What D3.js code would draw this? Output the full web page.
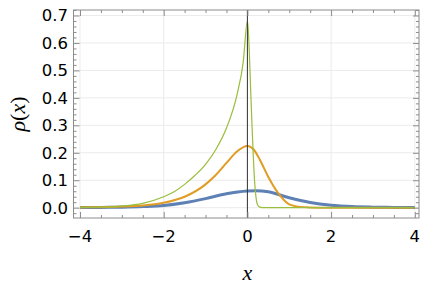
<!DOCTYPE html>
<html><head><meta charset="utf-8">
<script src="https://cdn.jsdelivr.net/npm/d3@7"></script>
<style>
html,body{margin:0;padding:0;background:#fff;}
svg{display:block;}
</style></head>
<body>
<svg id="chart" width="423" height="293"></svg>
<script>
// ---- data ----
const blueX = [-4, -3.5, -3, -2.5, -2, -1.5, -1, -0.5, 0, 0.2, 0.5, 1, 1.5, 2, 2.5, 3, 3.5, 4];
const blueY = [0.0005, 0.001, 0.002, 0.004, 0.008, 0.018, 0.033, 0.051, 0.061, 0.062, 0.058, 0.036, 0.019, 0.009, 0.004, 0.002, 0.001, 0.0005];

const orangeX = [-4, -3.5, -3, -2.5, -2, -1.5, -1, -0.75, -0.5, -0.25, 0, 0.15, 0.3, 0.5, 0.75, 1, 1.25, 1.5, 2, 3, 4];
const orangeY = [0.001, 0.002, 0.004, 0.008, 0.018, 0.040, 0.085, 0.120, 0.163, 0.205, 0.225, 0.212, 0.174, 0.112, 0.050, 0.012, 0.003, 0.001, 0, 0, 0];

const greenX = [-4, -3.5, -3, -2.5, -2, -1.75, -1.5, -1.25, -1, -0.75, -0.5, -0.25, -0.1, 0, 0.02, 0.05, 0.08, 0.11, 0.14, 0.17, 0.2, 0.24, 0.3, 0.4, 1, 2, 3, 4];
const greenY = [0.001, 0.002, 0.006, 0.016, 0.040, 0.058, 0.085, 0.118, 0.158, 0.213, 0.29, 0.41, 0.53, 0.68, 0.65, 0.55, 0.42, 0.30, 0.19, 0.10, 0.045, 0.012, 0.002, 0, 0, 0, 0, 0];

const xTicks = [-4, -2, 0, 2, 4];
const xTickLabels = ["\u22124", "\u22122", "0", "2", "4"];
const yTicks = [0, 0.1, 0.2, 0.3, 0.4, 0.5, 0.6, 0.7];
const yTickLabels = ["0.0", "0.1", "0.2", "0.3", "0.4", "0.5", "0.6", "0.7"];

const seriesColors = ["#5e81b5", "#e19c24", "#99bd3c"];

// ---- layout ----
const svg = d3.select("#chart");
const L = 73.5, R = 419, T = 10, B = 218;
const x = d3.scaleLinear().domain([-4.155, 4.1]).range([L, R]);
const y = d3.scaleLinear().domain([-0.0375, 0.72]).range([B, T]);

// gridlines
const grid = svg.append("g");
grid.selectAll("line.gx").data(xTicks).join("line")
  .attr("x1", d => x(d)).attr("x2", d => x(d)).attr("y1", T).attr("y2", B)
  .attr("stroke", "#ebebeb").attr("stroke-width", 1);
grid.selectAll("line.gy").data(yTicks).join("line")
  .attr("y1", d => y(d)).attr("y2", d => y(d)).attr("x1", L).attr("x2", R)
  .attr("stroke", "#ebebeb").attr("stroke-width", 1);

// curves
const line = d3.line().x(d => x(d[0])).y(d => y(d[1])).curve(d3.curveMonotoneX);
const series = [
  {xs: blueX, ys: blueY, w: 3},
  {xs: orangeX, ys: orangeY, w: 2},
  {xs: greenX, ys: greenY, w: 1.2}
];
series.forEach((s, i) => {
  svg.append("path")
    .datum(s.xs.map((v, j) => [v, s.ys[j]]))
    .attr("d", line)
    .attr("fill", "none")
    .attr("stroke", seriesColors[i])
    .attr("stroke-width", s.w)
    .attr("stroke-linejoin", "round");
});

// vertical axis line at x=0
svg.append("line")
  .attr("x1", x(0)).attr("x2", x(0)).attr("y1", T).attr("y2", B)
  .attr("stroke", "#333").attr("stroke-width", 1);

// frame with inward ticks
const frameColor = "#8c8c8c";
const xMinor = d3.range(-4, 4.01, 0.5).filter(v => !xTicks.includes(v));
const yMinor = d3.range(-0.02, 0.721, 0.02).map(v => +v.toFixed(2)).filter(v => !yTicks.some(t => Math.abs(t - v) < 1e-9));

const axB = d3.axisBottom(x).tickValues(xTicks).tickSize(-6).tickFormat("");
const axT = d3.axisTop(x).tickValues(xTicks).tickSize(-6).tickFormat("");
const axBm = d3.axisBottom(x).tickValues(xMinor).tickSize(-3).tickFormat("");
const axTm = d3.axisTop(x).tickValues(xMinor).tickSize(-3).tickFormat("");
const axL = d3.axisLeft(y).tickValues(yTicks).tickSize(-6).tickFormat("");
const axR = d3.axisRight(y).tickValues(yTicks).tickSize(-6).tickFormat("");
const axLm = d3.axisLeft(y).tickValues(yMinor).tickSize(-3).tickFormat("");
const axRm = d3.axisRight(y).tickValues(yMinor).tickSize(-3).tickFormat("");

function addAxis(ax, tx, ty) {
  const g = svg.append("g").attr("transform", `translate(${tx},${ty})`).call(ax);
  g.select(".domain").remove();
  g.selectAll("line").attr("stroke", frameColor);
}
addAxis(axB, 0, B); addAxis(axBm, 0, B);
addAxis(axT, 0, T); addAxis(axTm, 0, T);
addAxis(axL, L, 0); addAxis(axLm, L, 0);
addAxis(axR, R, 0); addAxis(axRm, R, 0);

svg.append("rect").attr("x", L).attr("y", T).attr("width", R - L).attr("height", B - T)
  .attr("fill", "none").attr("stroke", frameColor).attr("stroke-width", 1);

// tick labels
const tickFont = "'DejaVu Sans', sans-serif";
svg.append("g").selectAll("text").data(xTicks).join("text")
  .attr("x", d => x(d)).attr("y", 242)
  .attr("text-anchor", "middle")
  .attr("font-family", tickFont).attr("font-size", 16.5).attr("fill", "#000")
  .text((d, i) => xTickLabels[i]);
svg.append("g").selectAll("text").data(yTicks).join("text")
  .attr("x", 68).attr("y", d => y(d)).attr("dy", "0.36em")
  .attr("text-anchor", "end")
  .attr("font-family", tickFont).attr("font-size", 16.5).attr("fill", "#000")
  .text((d, i) => yTickLabels[i]);

// axis titles
const mathFont = "'Liberation Serif', 'DejaVu Serif', serif";
const xl = svg.append("text").attr("x", x(0)).attr("y", 280).attr("text-anchor", "middle")
  .attr("font-family", mathFont).attr("font-size", 22).attr("fill", "#000");
xl.append("tspan").attr("font-style", "italic").text("x");

const yl = svg.append("text").attr("transform", `translate(25,${(T + B) / 2}) rotate(-90)`)
  .attr("text-anchor", "middle")
  .attr("font-family", mathFont).attr("font-size", 22).attr("fill", "#000");
yl.append("tspan").attr("font-style", "italic").text("\u03c1");
yl.append("tspan").text("(");
yl.append("tspan").attr("font-style", "italic").text("x");
yl.append("tspan").text(")");
</script>
</body></html>
